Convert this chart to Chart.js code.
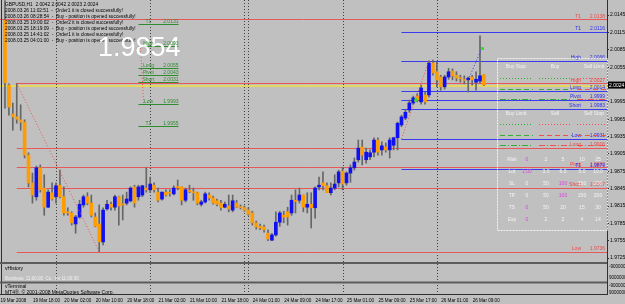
<!DOCTYPE html>
<html>
<head>
<meta charset="utf-8">
<script src="https://cdn.jsdelivr.net/npm/chart.js@4.4.1/dist/chart.umd.min.js"></script>
<style>
  html, body { margin: 0; padding: 0; background: #c0c0c0; }
  canvas { display: block; }
</style>
</head>
<body>
<canvas id="chart" width="625" height="304"></canvas>
<script>
// GBPUSD H1 bars, 19 Mar 11:00 .. 26 Mar 12:00
const opens = [2.0136,2.0024,1.9974,1.9969,1.9964,1.9960,1.9903,1.9855,1.9831,1.9881,
  1.9846,1.9813,1.9838,1.9831,1.9851,1.9831,1.9805,1.9803,1.9784,1.9796,
  1.9817,1.9831,1.9820,1.9796,1.9784,1.9753,1.9810,1.9818,1.9813,1.9831,
  1.9818,1.9820,1.9824,1.9848,1.9831,1.9834,1.9846,1.9843,1.9851,1.9839,
  1.9827,1.9839,1.9838,1.9836,1.9848,1.9848,1.9825,1.9841,1.9839,1.9838,
  1.9818,1.9822,1.9834,1.9829,1.9824,1.9820,1.9813,1.9815,1.9808,1.9820,
  1.9813,1.9812,1.9808,1.9803,1.9786,1.9780,1.9779,1.9768,1.9756,1.9765,
  1.9787,1.9799,1.9805,1.9803,1.9824,1.9825,1.9834,1.9813,1.9818,1.9812,
  1.9848,1.9855,1.9850,1.9838,1.9846,1.9855,1.9875,1.9855,1.9872,1.9881,
  1.9895,1.9917,1.9895,1.9900,1.9908,1.9929,1.9912,1.9917,1.9912,1.9920,
  1.9933,1.9955,1.9967,1.9981,1.9993,2.0005,1.9995,2.0007,2.0007,2.0062,
  2.0047,2.0038,2.0021,2.0038,2.0048,2.0041,2.0036,2.0033,2.0033,2.0038,
  2.0029,2.0031,2.0042];
const highs = [2.0170,2.0026,1.9993,2.0027,1.9990,1.9964,1.9907,1.9872,1.9884,1.9886,
  1.9869,1.9843,1.9855,1.9855,1.9877,1.9848,1.9812,1.9805,1.9799,1.9825,
  1.9834,1.9838,1.9834,1.9803,1.9817,1.9812,1.9825,1.9822,1.9834,1.9832,
  1.9834,1.9839,1.9848,1.9851,1.9851,1.9851,1.9881,1.9865,1.9855,1.9846,
  1.9839,1.9843,1.9843,1.9850,1.9860,1.9848,1.9846,1.9851,1.9846,1.9839,
  1.9825,1.9839,1.9838,1.9832,1.9827,1.9825,1.9822,1.9834,1.9834,1.9825,
  1.9817,1.9815,1.9812,1.9806,1.9789,1.9784,1.9782,1.9774,1.9768,1.9805,
  1.9806,1.9806,1.9813,1.9834,1.9843,1.9846,1.9834,1.9838,1.9838,1.9848,
  1.9865,1.9874,1.9855,1.9855,1.9869,1.9877,1.9882,1.9874,1.9886,1.9898,
  1.9929,1.9929,1.9915,1.9912,1.9933,1.9933,1.9926,1.9924,1.9933,1.9934,
  1.9960,1.9972,1.9981,1.9998,2.0005,2.0009,2.0024,2.0012,2.0066,2.0067,
  2.0064,2.0041,2.0041,2.0053,2.0052,2.0047,2.0041,2.0040,2.0038,2.0041,
  2.0047,2.0109,2.0042];
const lows = [1.9984,1.9972,1.9946,1.9958,1.9946,1.9898,1.9848,1.9820,1.9825,1.9839,
  1.9799,1.9812,1.9825,1.9820,1.9829,1.9799,1.9799,1.9782,1.9768,1.9794,
  1.9813,1.9817,1.9796,1.9779,1.9736,1.9748,1.9808,1.9808,1.9808,1.9782,
  1.9791,1.9817,1.9822,1.9813,1.9825,1.9831,1.9839,1.9838,1.9839,1.9822,
  1.9825,1.9832,1.9832,1.9834,1.9843,1.9817,1.9822,1.9838,1.9825,1.9817,
  1.9815,1.9820,1.9825,1.9818,1.9815,1.9808,1.9812,1.9805,1.9805,1.9812,
  1.9810,1.9806,1.9799,1.9782,1.9775,1.9774,1.9770,1.9755,1.9755,1.9763,
  1.9780,1.9786,1.9782,1.9799,1.9803,1.9820,1.9805,1.9803,1.9777,1.9794,
  1.9843,1.9843,1.9838,1.9834,1.9843,1.9848,1.9843,1.9851,1.9856,1.9877,
  1.9891,1.9886,1.9889,1.9895,1.9900,1.9903,1.9903,1.9908,1.9898,1.9912,
  1.9912,1.9952,1.9964,1.9977,1.9990,1.9995,1.9991,1.9991,2.0003,2.0041,
  2.0021,2.0015,2.0017,2.0034,2.0033,2.0031,2.0029,2.0026,2.0012,2.0024,
  2.0015,2.0028,2.0023];
const closes = [2.0028,1.9986,1.9969,1.9965,1.9960,1.9903,1.9855,1.9834,1.9881,1.9843,
  1.9813,1.9839,1.9827,1.9850,1.9831,1.9803,1.9803,1.9786,1.9796,1.9818,
  1.9831,1.9820,1.9799,1.9780,1.9753,1.9808,1.9818,1.9813,1.9831,1.9815,
  1.9817,1.9827,1.9846,1.9820,1.9848,1.9850,1.9843,1.9853,1.9843,1.9825,
  1.9839,1.9834,1.9837,1.9846,1.9847,1.9825,1.9843,1.9840,1.9838,1.9820,
  1.9822,1.9836,1.9829,1.9820,1.9818,1.9812,1.9818,1.9810,1.9824,1.9813,
  1.9812,1.9808,1.9801,1.9786,1.9779,1.9777,1.9774,1.9758,1.9765,1.9787,
  1.9803,1.9796,1.9796,1.9825,1.9823,1.9834,1.9813,1.9818,1.9812,1.9846,
  1.9851,1.9850,1.9838,1.9846,1.9853,1.9874,1.9853,1.9872,1.9881,1.9891,
  1.9915,1.9903,1.9908,1.9907,1.9929,1.9908,1.9919,1.9912,1.9929,1.9933,
  1.9958,1.9969,1.9977,1.9993,2.0002,1.9998,2.0019,1.9995,2.0062,2.0045,
  2.0033,2.0021,2.0038,2.0047,2.0040,2.0036,2.0035,2.0032,2.0036,2.0033,
  2.0034,2.0040,2.0024];

const timeLabels = ['19 Mar 2008','19 Mar 18:00','20 Mar 02:00','20 Mar 10:00','20 Mar 18:00',
  '21 Mar 02:00','21 Mar 10:00','21 Mar 18:00','24 Mar 01:00','24 Mar 09:00','24 Mar 17:00',
  '25 Mar 01:00','25 Mar 09:00','25 Mar 17:00','26 Mar 01:00','26 Mar 09:00'];
const timeLabelBars = [0,7,15,23,31,39,47,55,63,71,79,87,95,103,111,119];
const separatorBars = [13,37,61,62,86,110];
const priceTicks = [1.9725,1.9755,1.9785,1.9815,1.9845,1.9875,1.9905,1.9935,1.9965,1.9995,
  2.0024,2.0055,2.0085,2.0115,2.0145];
const lastPrice = 2.0024;

// level sets drawn by the "levels" expert
const redNames = ['T1','High','Long','Pivot','Short','Low'];
const redValues = [2.0138,2.0027,1.9916,1.9882,1.9847,1.9736];
const blueNames = ['T1','High','Long','Pivot','Short','Low','T1'];
const blueValues = [2.0116,2.0066,2.0014,1.9999,1.9983,1.9931,1.9879];
const greenNames = ['T1','High','Long','Pivot','Short','Low','T1'];
const greenValues = [2.0131,2.0093,2.0055,2.0043,2.0031,1.9993,1.9955];

// zigzag legs [bar, price]
const redZig = [[3,2.0027],[24,1.9736]];
const redZig2 = [[34.5,2.0093],[35.3,1.9993]];
const redZig3 = [[101,1.9931],[108,2.0066]];
const blueTrade = [[118,2.0033],[121.5,2.0088]];

const messages = [
  'GBPUSD,H1  2.0042 2.0042 2.0023 2.0024',
  '2008.03.26 11:02:51  -  Order1 it is closed successfully!',
  '2008.03.26 08:28:54  -  Buy - position is opened successfully!',
  '2008.03.25 19:00:02  -  Order2 it is closed successfully!',
  '2008.03.25 18:19:09  -  Buy - position is opened successfully!',
  '2008.03.25 14:41:02  -  Order1 it is closed successfully!',
  '2008.03.25 04:01:00  -  Buy - position is opened successfully!'
];
const bigPrice = '1.9854';

const panelRows = ['Risk','Lot','SL','TP','TS','Exp'];
const panelValues = [
  ['0','2','5','10','25'],
  ['1.00','3.0','6.0','5.0','10.0'],
  ['0','50','100','150','200'],
  ['0','50','100','150','200'],
  ['0','50','20','15','30'],
  ['0','2','2','4','14']
];
const panelPick = [0,0,2,2,0,0];

const FONT = '"Liberation Sans", Arial, sans-serif';
const bull = '#1010f0', bear = '#ff9c00';

const bodyData = opens.map((o, i) => ({ x: i, y: [o, closes[i]] }));
const wickData = highs.map((h, i) => ({ x: i, y: [lows[i], h] }));
const bodyColors = opens.map((o, i) => closes[i] > o ? bull : (closes[i] < o ? bear : '#202020'));

function line(ctx, x1, y1, x2, y2) {
  ctx.beginPath(); ctx.moveTo(x1, y1); ctx.lineTo(x2, y2); ctx.stroke();
}
function txt(ctx, s, x, y, color, size, align) {
  ctx.fillStyle = color;
  ctx.font = (size || 5) + 'px ' + FONT;
  ctx.textAlign = align || 'left';
  ctx.textBaseline = 'alphabetic';
  ctx.fillText(s, x, y);
}

const overlay = {
  id: 'overlay',
  beforeDatasetsDraw(chart) {
    const { ctx, chartArea: a, scales: { x, y } } = chart;
    const py = v => Math.round(y.getPixelForValue(v)) + 0.5;
    ctx.save();
    ctx.lineWidth = 1;
    // day separators
    ctx.strokeStyle = '#404040';
    ctx.setLineDash([1, 2]);
    separatorBars.forEach(b => {
      const px = Math.round(x.getPixelForValue(b)) + 0.5;
      line(ctx, px, 0, px, 295);
    });
    ctx.setLineDash([]);
    // red level set
    ctx.strokeStyle = '#e8585a';
    redValues.forEach((v, k) => {
      const x0 = k === 0 ? 0 : x.getPixelForValue(redZig[0][0]);
      line(ctx, x0, py(v), a.right, py(v));
    });
    // blue level set
    ctx.strokeStyle = '#3a3aee';
    blueValues.forEach(v => line(ctx, x.getPixelForValue(101), py(v), a.right, py(v)));
    // green level set
    ctx.strokeStyle = '#2e8b2e';
    greenValues.forEach(v => line(ctx, x.getPixelForValue(34), py(v) + 1, x.getPixelForValue(44.2), py(v) + 1));
    // bid line
    ctx.strokeStyle = '#f0e040';
    ctx.lineWidth = 1.5;
    line(ctx, 0, py(lastPrice) + 0.5, a.right, py(lastPrice) + 0.5);
    ctx.restore();
  },
  afterDatasetsDraw(chart) {
    const { ctx, chartArea: a, scales: { x, y } } = chart;
    const P = p => [x.getPixelForValue(p[0]), y.getPixelForValue(p[1])];
    ctx.save();
    ctx.lineWidth = 1;
    ctx.setLineDash([1, 2]);
    ctx.strokeStyle = '#f05050';
    [redZig, redZig2, redZig3].forEach(z => {
      const [x1, y1] = P(z[0]), [x2, y2] = P(z[1]);
      line(ctx, x1, y1, x2, y2);
    });
    ctx.strokeStyle = '#3030ff';
    line(ctx, ...P(blueTrade[0]), ...P(blueTrade[1]));
    ctx.setLineDash([]);
    ctx.fillStyle = '#30e030';
    [[104.5, 1.9999], blueTrade[1]].forEach(p => { const [px, pyy] = P(p); ctx.fillRect(px - 1, pyy - 1, 3, 3); });

    // top-left messages
    messages.forEach((m, k) => txt(ctx, m, 5, 6 + k * 6, '#000', 4.8));
    txt(ctx, bigPrice, 98, 56, '#ffffff', 27);

    // green labels
    const gx1 = x.getPixelForValue(34), gx2 = x.getPixelForValue(44.2);
    greenValues.forEach((v, k) => {
      const yy = y.getPixelForValue(v);
      txt(ctx, greenNames[k], gx1 + 10, yy - 0.5, '#2e8b2e', 5, 'center');
      txt(ctx, v.toFixed(4), gx2, yy - 0.5, '#2e8b2e', 5, 'right');
    });
    // right labels
    redValues.forEach((v, k) => {
      const yy = y.getPixelForValue(v) - 1.5;
      txt(ctx, redNames[k], 581, yy, '#f04848', 5, 'right');
      txt(ctx, v.toFixed(4), 605, yy, '#f04848', 5, 'right');
    });
    blueValues.forEach((v, k) => {
      const yy = y.getPixelForValue(v) - 1.5;
      txt(ctx, blueNames[k], 581, yy, '#3030f0', 5, 'right');
      txt(ctx, v.toFixed(4), 605, yy, '#3030f0', 5, 'right');
    });

    // info panel
    ctx.strokeStyle = '#f4f4f4';
    ctx.setLineDash([2, 1]);
    ctx.strokeRect(497.5, 58.5, 110, 172);
    ctx.setLineDash([]);
    const W = '#f4f4f4';
    txt(ctx, 'Buy Stop', 516, 68, W, 5, 'center');
    txt(ctx, 'Buy', 555, 68, W, 5, 'center');
    txt(ctx, 'Sell Limit', 594, 68, W, 5, 'center');
    txt(ctx, 'Buy Limit', 516, 115, W, 5, 'center');
    txt(ctx, 'Sell', 555, 115, W, 5, 'center');
    txt(ctx, 'Sell Stop', 594, 115, W, 5, 'center');
    const styles = [[1, 2], [5, 3], [6, 2, 1, 2]];
    [[78, 89, 99, '#30b030', '#f05050'], [124, 135, 145, '#f05050', '#f05050']].forEach((g, gi) => {
      for (let r = 0; r < 3; r++) {
        const yy = g[r] + 0.5;
        ctx.setLineDash(styles[r]);
        ctx.strokeStyle = '#30b030';
        line(ctx, 500, yy, 533, yy);
        ctx.strokeStyle = gi === 0 ? '#30b030' : '#f05050';
        line(ctx, 539, yy, 572, yy);
        ctx.strokeStyle = g[4];
        line(ctx, 577, yy, 606, yy);
      }
    });
    ctx.setLineDash([]);
    const colX = [527, 546, 563, 582, 598];
    panelRows.forEach((r, k) => {
      const yy = 161 + k * 12;
      txt(ctx, r, 512, yy, W, 5, 'center');
      panelValues[k].forEach((v, j) => txt(ctx, v, colX[j], yy, j === panelPick[k] ? '#e040e0' : W, 5, 'center'));
    });
    ctx.restore();
  },
  afterDraw(chart) {
    const { ctx, chartArea: a, scales: { x, y } } = chart;
    ctx.save();
    // frame
    ctx.strokeStyle = '#303030';
    ctx.lineWidth = 1;
    line(ctx, 1.5, 0, 1.5, 295);
    line(ctx, a.right + 0.5, a.bottom, a.right + 0.5, 295);
    line(ctx, 0, 294.5, a.right, 294.5);
    // sub-window separators
    ctx.fillStyle = '#5c5c5c';
    ctx.fillRect(0, 262, a.right, 2);
    ctx.fillRect(0, 281.5, a.right, 2);
    txt(ctx, 'vHistory', 5, 270, '#000', 5);
    txt(ctx, 'Business: 11:00:00  Co.  for 11:00:00', 5, 280, '#f0f0f0', 4.5);
    txt(ctx, 'vTerminal', 5, 288, '#000', 5);
    txt(ctx, 'MT4®, © 2001-2008 MetaQuotes Software Corp.', 5, 293.5, '#000', 5);
    txt(ctx, '-9000000', 609, 268, '#000', 4.5);
    txt(ctx, '9000000', 609, 279, '#000', 4.5);
    txt(ctx, '-9000000', 609, 287, '#000', 4.5);
    txt(ctx, '9000000', 609, 294, '#000', 4.5);
    // time axis
    timeLabels.forEach((t, k) => {
      const px = Math.max(0, x.getPixelForValue(timeLabelBars[k]) + 0.5 - (k === 0 ? 5 : 0));
      txt(ctx, t, px, 302, '#000', 4.6);
    });
    // last price box
    const yy = y.getPixelForValue(lastPrice);
    ctx.fillStyle = '#000';
    ctx.fillRect(a.right + 1, yy - 3.5, 17, 7);
    txt(ctx, lastPrice.toFixed(4), a.right + 2, yy + 2, '#fff', 5);
    ctx.restore();
  }
};

new Chart(document.getElementById('chart'), {
  type: 'bar',
  data: {
    datasets: [
      { label: 'wick', data: wickData, backgroundColor: '#666666', barThickness: 1, grouped: false, order: 2 },
      { label: 'body', data: bodyData, backgroundColor: bodyColors, barThickness: 3, minBarLength: 1, grouped: false, order: 1 }
    ]
  },
  options: {
    responsive: false,
    animation: false,
    events: [],
    layout: { padding: { left: 3, right: 0, top: 0, bottom: 43 } },
    plugins: { legend: { display: false }, tooltip: { enabled: false } },
    scales: {
      x: { type: 'linear', offset: false, min: -0.5, max: 153.35, display: false },
      y: {
        position: 'right',
        min: 1.9720,
        max: 2.0171,
        afterBuildTicks: s => { s.ticks = priceTicks.filter(v => v !== lastPrice).map(v => ({ value: v })); },
        afterFit: s => { s.width = 18; s.paddingTop = 0; s.paddingBottom = 0; },
        grid: { drawOnChartArea: false, tickLength: 2, color: '#303030' },
        border: { color: '#303030' },
        ticks: { font: { size: 5, family: FONT }, color: '#000', padding: 1, autoSkip: false, callback: v => v.toFixed(4) }
      }
    }
  },
  plugins: [overlay]
});
</script>
</body>
</html>
